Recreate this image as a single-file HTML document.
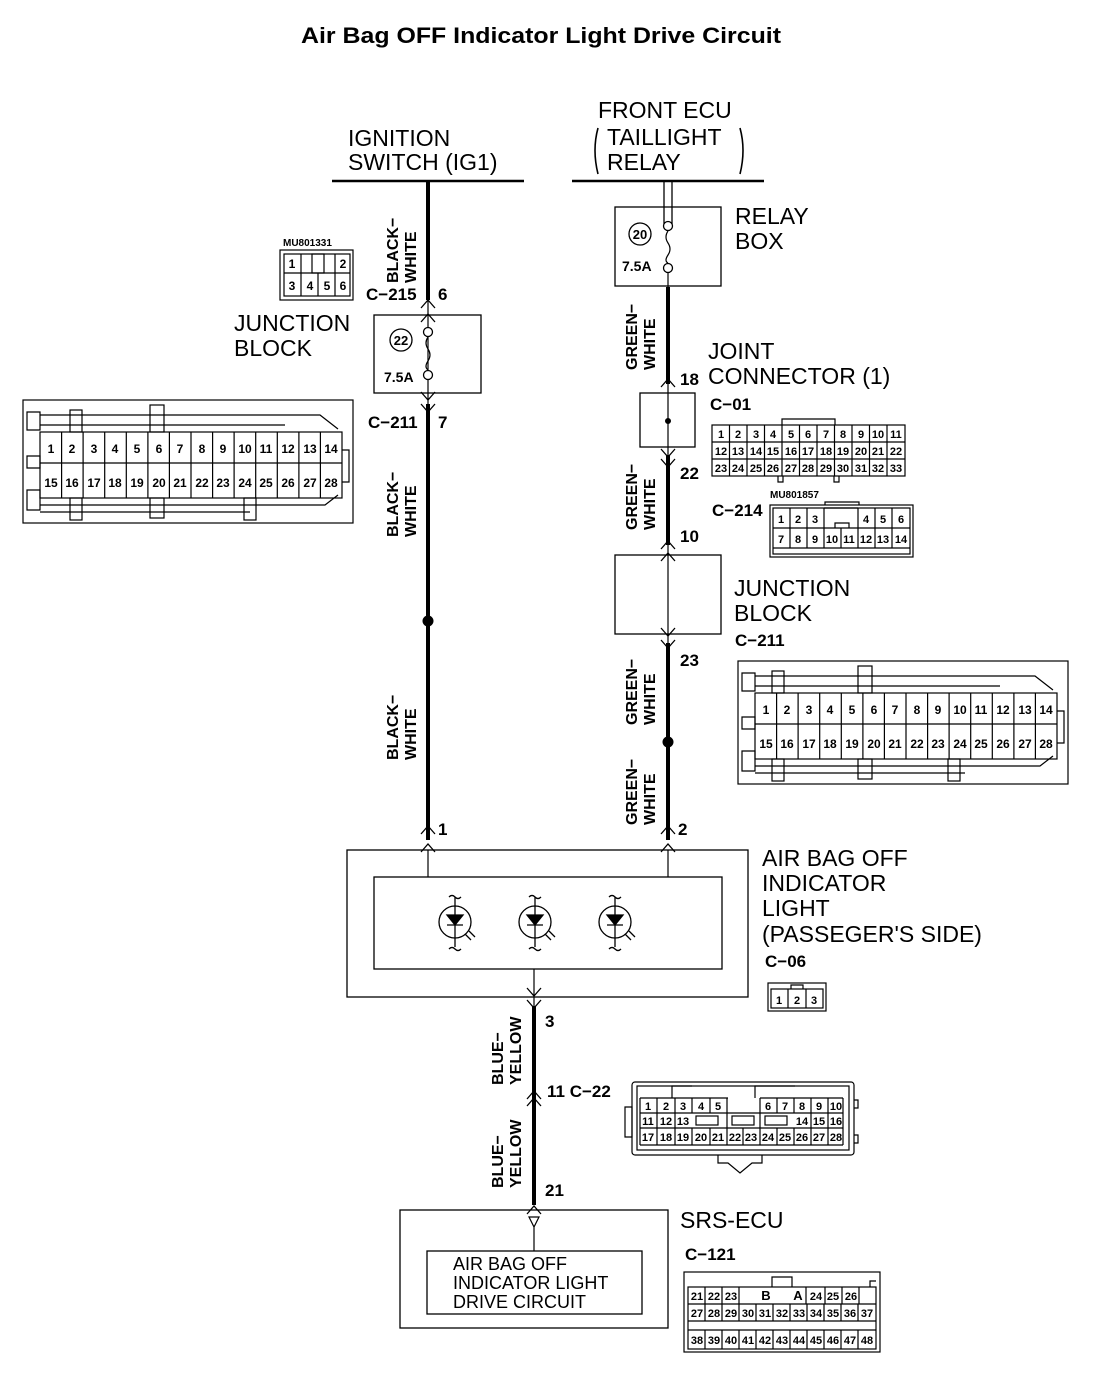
<!DOCTYPE html>
<html><head><meta charset="utf-8"><style>
html,body{margin:0;padding:0;background:#fff}
svg{display:block}
.t{font-family:"Liberation Sans",sans-serif;font-size:23px;fill:#000}
.b{font-family:"Liberation Sans",sans-serif;font-weight:bold;font-size:18px;fill:#000}
.s{font-family:"Liberation Sans",sans-serif;font-weight:bold;font-size:12px;fill:#000;text-anchor:middle}
.w{font-family:"Liberation Sans",sans-serif;font-weight:bold;font-size:17px;fill:#000}
.tiny{font-family:"Liberation Sans",sans-serif;font-weight:bold;font-size:10px;fill:#000}
</style></head><body>
<svg width="1120" height="1388" viewBox="0 0 1120 1388" xmlns="http://www.w3.org/2000/svg">
<text x="301" y="43" class="b" style="font-size:22px" textLength="480" lengthAdjust="spacingAndGlyphs">Air Bag OFF Indicator Light Drive Circuit</text>
<g stroke="#000" fill="none">
<!-- top bars -->
<line x1="332" y1="181" x2="524" y2="181" stroke-width="2.5"/>
<line x1="572" y1="181" x2="764" y2="181" stroke-width="2.5"/>
<!-- left wire -->
<line x1="428" y1="181" x2="428" y2="300" stroke-width="4"/>
<line x1="428" y1="300" x2="428" y2="404" stroke-width="1.2"/>
<line x1="428" y1="404" x2="428" y2="840" stroke-width="4"/>
<circle cx="428" cy="621" r="5" fill="#000"/>
<!-- left junction -->
<rect x="374" y="315" width="107" height="78" stroke-width="1.3"/>
<circle cx="428" cy="332" r="4.5" fill="#fff" stroke-width="1.3"/>
<circle cx="428" cy="375" r="4.5" fill="#fff" stroke-width="1.3"/>
<path d="M428 337 q-4 6 0 12 q4 6 0 12 q-4 6 0 9" stroke-width="1.2"/>
<circle cx="401" cy="340" r="11" stroke-width="1.3"/>
<path d="M421 308 l7 -8 l7 8 M421 322 l7 -8 l7 8 M421 392 l7 8 l7 -8 M421 404 l7 8 l7 -8 M421 852 l7 -8 l7 8 M421 834 l7 -8 l7 8" stroke-width="1.3"/>
<!-- right wire -->
<line x1="664" y1="181" x2="664" y2="224" stroke-width="1.3"/>
<line x1="672" y1="181" x2="672" y2="224" stroke-width="1.3"/>
<rect x="615" y="207" width="106" height="79" stroke-width="1.3"/>
<circle cx="668" cy="226" r="4.5" fill="#fff" stroke-width="1.3"/>
<circle cx="668" cy="268" r="4.5" fill="#fff" stroke-width="1.3"/>
<path d="M668 231 q-4 6 0 12 q4 6 0 12 q-4 6 0 8" stroke-width="1.2"/>
<line x1="668" y1="273" x2="668" y2="287" stroke-width="1.2"/>
<circle cx="640" cy="234" r="11" stroke-width="1.3"/>
<line x1="668" y1="287" x2="668" y2="384" stroke-width="4"/>
<line x1="668" y1="384" x2="668" y2="455" stroke-width="1.2"/>
<rect x="640" y="393" width="55" height="54" stroke-width="1.3"/>
<circle cx="668" cy="421" r="2.5" fill="#000"/>
<line x1="668" y1="455" x2="668" y2="545" stroke-width="4"/>
<line x1="668" y1="545" x2="668" y2="643" stroke-width="1.2"/>
<rect x="615" y="555" width="106" height="79" stroke-width="1.3"/>
<line x1="668" y1="643" x2="668" y2="840" stroke-width="4"/>
<circle cx="668" cy="742" r="5" fill="#000"/>
<path d="M661 387 l7 -8 l7 8 M661 449 l7 8 l7 -8 M661 459 l7 8 l7 -8 M661 549 l7 -8 l7 8 M661 561 l7 -8 l7 8 M661 628 l7 8 l7 -8 M661 640 l7 8 l7 -8 M661 852 l7 -8 l7 8 M661 834 l7 -8 l7 8" stroke-width="1.3"/>
<!-- indicator -->
<rect x="347" y="850" width="401" height="147" stroke-width="1.3"/>
<rect x="374" y="877" width="348" height="92" stroke-width="1.3"/>
<line x1="428" y1="850" x2="428" y2="877" stroke-width="1.2"/>
<line x1="668" y1="850" x2="668" y2="877" stroke-width="1.2"/>
<line x1="534" y1="969" x2="534" y2="1006" stroke-width="1.2"/>
<path d="M527 988 l7 8 l7 -8 M527 1000 l7 8 l7 -8" stroke-width="1.3"/>
<line x1="534" y1="1006" x2="534" y2="1205" stroke-width="4"/>
<path d="M527 1099 l7 -8 l7 8 M527 1106 l7 -8 l7 8 M527 1214 l7 -8 l7 8" stroke-width="1.3"/>
<g stroke-width="1.3">
<circle cx="455" cy="922" r="16"/><circle cx="535" cy="922" r="16"/><circle cx="615" cy="922" r="16"/>
</g>
<g stroke-width="1.3">
<path d="M455 897 v50 M449 897 q3 -3 6 0 q3 3 6 0 M449 949 q3 -3 6 0 q3 3 6 0 M447 925 h16" />
<path d="M447 915 h16 l-8 10 z" fill="#000"/>
<path d="M465 934 l6 6 M469 931 l6 6"/>
</g>
<g transform="translate(80,0)" stroke-width="1.3">
<path d="M455 897 v50 M449 897 q3 -3 6 0 q3 3 6 0 M449 949 q3 -3 6 0 q3 3 6 0 M447 925 h16" />
<path d="M447 915 h16 l-8 10 z" fill="#000"/>
<path d="M465 934 l6 6 M469 931 l6 6"/>
</g>
<g transform="translate(160,0)" stroke-width="1.3">
<path d="M455 897 v50 M449 897 q3 -3 6 0 q3 3 6 0 M449 949 q3 -3 6 0 q3 3 6 0 M447 925 h16" />
<path d="M447 915 h16 l-8 10 z" fill="#000"/>
<path d="M465 934 l6 6 M469 931 l6 6"/>
</g>
<!-- SRS -->
<rect x="400" y="1210" width="268" height="118" stroke-width="1.3"/>
<rect x="427" y="1251" width="215" height="63" stroke-width="1.3"/>
<path d="M529 1217 h10 l-5 10 z M534 1227 v24" stroke-width="1.2"/>
</g>
<!-- texts -->
<text x="348" y="146" class="t">IGNITION</text>
<text x="348" y="170" class="t">SWITCH (IG1)</text>
<text x="598" y="118" class="t">FRONT ECU</text>
<text x="607" y="145" class="t">TAILLIGHT</text>
<text x="607" y="170" class="t">RELAY</text>
<path d="M598 128 q-6 22 0 46 M740 128 q6 22 0 46" stroke="#000" fill="none" stroke-width="1.6"/>
<text x="735" y="224" class="t">RELAY</text>
<text x="735" y="249" class="t">BOX</text>
<text x="708" y="359" class="t">JOINT</text>
<text x="708" y="384" class="t">CONNECTOR (1)</text>
<text x="680" y="385" class="w">18</text>
<text x="734" y="596" class="t">JUNCTION</text>
<text x="734" y="621" class="t">BLOCK</text>
<text x="234" y="331" class="t">JUNCTION</text>
<text x="234" y="356" class="t">BLOCK</text>
<text x="762" y="866" class="t">AIR BAG OFF</text>
<text x="762" y="891" class="t">INDICATOR</text>
<text x="762" y="916" class="t">LIGHT</text>
<text x="762" y="942" class="t">(PASSEGER'S SIDE)</text>
<text x="680" y="1228" class="t">SRS-ECU</text>
<text x="453" y="1270" class="t" style="font-size:18px">AIR BAG OFF</text>
<text x="453" y="1289" class="t" style="font-size:18px">INDICATOR LIGHT</text>
<text x="453" y="1308" class="t" style="font-size:18px">DRIVE CIRCUIT</text>
<g class="w">
<text x="366" y="300" class="w">C−215</text><text x="438" y="300" class="w">6</text>
<text x="368" y="428" class="w">C−211</text><text x="438" y="428" class="w">7</text>
<text x="438" y="835" class="w">1</text>
<text x="678" y="835" class="w">2</text>
<text x="710" y="410" class="w">C−01</text>
<text x="680" y="479" class="w">22</text>
<text x="680" y="542" class="w">10</text>
<text x="680" y="666" class="w">23</text>
<text x="712" y="516" class="w">C−214</text>
<text x="735" y="646" class="w">C−211</text>
<text x="765" y="967" class="w">C−06</text>
<text x="545" y="1027" class="w">3</text>
<text x="547" y="1097" class="w">11 C−22</text>
<text x="545" y="1196" class="w">21</text>
<text x="685" y="1260" class="w">C−121</text>
</g>
<text x="622" y="271" class="w" style="font-size:14px">7.5A</text>
<text x="384" y="382" class="w" style="font-size:14px">7.5A</text>
<text x="640" y="239" class="s" style="font-size:13px">20</text>
<text x="401" y="345" class="s" style="font-size:13px">22</text>
<g class="w" style="font-size:16px">
<text transform="translate(398,283) rotate(-90)">BLACK−</text><text transform="translate(416,283) rotate(-90)">WHITE</text>
<text transform="translate(398,537) rotate(-90)">BLACK−</text><text transform="translate(416,537) rotate(-90)">WHITE</text>
<text transform="translate(398,760) rotate(-90)">BLACK−</text><text transform="translate(416,760) rotate(-90)">WHITE</text>
<text transform="translate(637,370) rotate(-90)">GREEN−</text><text transform="translate(655,370) rotate(-90)">WHITE</text>
<text transform="translate(637,530) rotate(-90)">GREEN−</text><text transform="translate(655,530) rotate(-90)">WHITE</text>
<text transform="translate(637,725) rotate(-90)">GREEN−</text><text transform="translate(655,725) rotate(-90)">WHITE</text>
<text transform="translate(637,825) rotate(-90)">GREEN−</text><text transform="translate(655,825) rotate(-90)">WHITE</text>
<text transform="translate(503,1085) rotate(-90)">BLUE−</text><text transform="translate(521,1085) rotate(-90)">YELLOW</text>
<text transform="translate(503,1188) rotate(-90)">BLUE−</text><text transform="translate(521,1188) rotate(-90)">YELLOW</text>
</g>

<text x="283" y="246" class="tiny">MU801331</text>
<g stroke="#000" fill="none" stroke-width="1.2">
<rect x="280" y="250" width="73" height="50"/>
<rect x="284" y="254" width="66" height="42"/>
<path d="M284 273 h66 M301 254 v42 M318 273 v23 M335 254 v42 M301 254 v19"/>
<rect x="312" y="254" width="12" height="19"/>
</g>
<g class="s"><text x="292" y="268">1</text><text x="343" y="268">2</text><text x="292" y="290">3</text><text x="310" y="290">4</text><text x="327" y="290">5</text><text x="343" y="290">6</text></g>

<g stroke="#000" fill="none" stroke-width="1.2">
<rect x="23" y="400" width="330" height="123"/>
<rect x="40" y="432" width="302" height="66"/>
<line x1="40" y1="463" x2="342" y2="463"/>
<path d="M61.6 432v66M83.1 432v66M104.7 432v66M126.3 432v66M147.9 432v66M169.4 432v66M191 432v66M212.6 432v66M234.1 432v66M255.7 432v66M277.3 432v66M298.9 432v66M320.4 432v66"/>
<path d="M27 412 h13 v18 h-13 z M27 490 h13 v20 h-13 z M27 456 h13 v12 h-13 z M40 415 h280 l18 14 M40 425 h245 M40 505 h285 l13 -10 M40 512 h210 M342 450 h7 v32 h-7"/>
<rect x="70" y="410" width="12" height="22"/><rect x="70" y="498" width="12" height="22"/><rect x="244" y="498" width="12" height="22"/>
<rect x="150" y="405" width="14" height="27"/><rect x="150" y="498" width="14" height="20"/>
</g>
<g class="s"><text x="51" y="453">1</text><text x="72" y="453">2</text><text x="94" y="453">3</text><text x="115" y="453">4</text><text x="137" y="453">5</text><text x="159" y="453">6</text><text x="180" y="453">7</text><text x="202" y="453">8</text><text x="223" y="453">9</text><text x="245" y="453">10</text><text x="266" y="453">11</text><text x="288" y="453">12</text><text x="310" y="453">13</text><text x="331" y="453">14</text>
<text x="51" y="487">15</text><text x="72" y="487">16</text><text x="94" y="487">17</text><text x="115" y="487">18</text><text x="137" y="487">19</text><text x="159" y="487">20</text><text x="180" y="487">21</text><text x="202" y="487">22</text><text x="223" y="487">23</text><text x="245" y="487">24</text><text x="266" y="487">25</text><text x="288" y="487">26</text><text x="310" y="487">27</text><text x="331" y="487">28</text></g>

<g transform="translate(715,261)">
<g stroke="#000" fill="none" stroke-width="1.2">
<rect x="23" y="400" width="330" height="123"/>
<rect x="40" y="432" width="302" height="66"/>
<line x1="40" y1="463" x2="342" y2="463"/>
<path d="M61.6 432v66M83.1 432v66M104.7 432v66M126.3 432v66M147.9 432v66M169.4 432v66M191 432v66M212.6 432v66M234.1 432v66M255.7 432v66M277.3 432v66M298.9 432v66M320.4 432v66"/>
<path d="M27 412 h13 v18 h-13 z M27 490 h13 v20 h-13 z M27 456 h13 v12 h-13 z M40 415 h280 l18 14 M40 425 h245 M40 505 h285 l13 -10 M40 512 h210 M342 450 h7 v32 h-7"/>
<rect x="57" y="410" width="12" height="22"/><rect x="57" y="498" width="12" height="22"/><rect x="233" y="498" width="12" height="22"/>
<rect x="143" y="405" width="14" height="27"/><rect x="143" y="498" width="14" height="20"/>
</g>
<g class="s"><text x="51" y="453">1</text><text x="72" y="453">2</text><text x="94" y="453">3</text><text x="115" y="453">4</text><text x="137" y="453">5</text><text x="159" y="453">6</text><text x="180" y="453">7</text><text x="202" y="453">8</text><text x="223" y="453">9</text><text x="245" y="453">10</text><text x="266" y="453">11</text><text x="288" y="453">12</text><text x="310" y="453">13</text><text x="331" y="453">14</text>
<text x="51" y="487">15</text><text x="72" y="487">16</text><text x="94" y="487">17</text><text x="115" y="487">18</text><text x="137" y="487">19</text><text x="159" y="487">20</text><text x="180" y="487">21</text><text x="202" y="487">22</text><text x="223" y="487">23</text><text x="245" y="487">24</text><text x="266" y="487">25</text><text x="288" y="487">26</text><text x="310" y="487">27</text><text x="331" y="487">28</text></g>
</g>

<g stroke="#000" fill="none" stroke-width="1.2">
<rect x="712" y="425" width="193" height="51"/>
<path d="M712 442h193M712 459h193M729.5 425v51M747 425v51M764.5 425v51M782 425v51M799.5 425v51M817 425v51M834.5 425v51M852 425v51M869.5 425v51M887 425v51"/>
<path d="M782 425 v-6 h53 v6 M778 476 v6 h5 v-6 M834 476 v6 h5 v-6"/>
</g>
<g class="s" style="font-size:11px">
<text x="721" y="438">1</text><text x="738" y="438">2</text><text x="756" y="438">3</text><text x="773" y="438">4</text><text x="791" y="438">5</text><text x="808" y="438">6</text><text x="826" y="438">7</text><text x="843" y="438">8</text><text x="861" y="438">9</text><text x="878" y="438">10</text><text x="896" y="438">11</text>
<text x="721" y="455">12</text><text x="738" y="455">13</text><text x="756" y="455">14</text><text x="773" y="455">15</text><text x="791" y="455">16</text><text x="808" y="455">17</text><text x="826" y="455">18</text><text x="843" y="455">19</text><text x="861" y="455">20</text><text x="878" y="455">21</text><text x="896" y="455">22</text>
<text x="721" y="472">23</text><text x="738" y="472">24</text><text x="756" y="472">25</text><text x="773" y="472">26</text><text x="791" y="472">27</text><text x="808" y="472">28</text><text x="826" y="472">29</text><text x="843" y="472">30</text><text x="861" y="472">31</text><text x="878" y="472">32</text><text x="896" y="472">33</text></g>

<text x="770" y="498" class="tiny">MU801857</text>
<g stroke="#000" fill="none" stroke-width="1.2">
<rect x="770" y="505" width="143" height="52"/>
<rect x="773" y="508" width="137" height="46"/>
<path d="M773 528h137 M773 548h137 M790 508v40 M807 508v40 M824 508v40 M841 528v20 M858 508v40 M875 508v40 M892 508v40"/>
<path d="M835 528 v-5 h14 v5 M824 508 h34 M825 505 v-3 h34 v3"/>
</g>
<g class="s" style="font-size:11px">
<text x="781" y="523">1</text><text x="798" y="523">2</text><text x="815" y="523">3</text><text x="866" y="523">4</text><text x="883" y="523">5</text><text x="901" y="523">6</text>
<text x="781" y="543">7</text><text x="798" y="543">8</text><text x="815" y="543">9</text><text x="832" y="543">10</text><text x="849" y="543">11</text><text x="866" y="543">12</text><text x="883" y="543">13</text><text x="901" y="543">14</text></g>

<g stroke="#000" fill="none" stroke-width="1.2">
<rect x="768" y="983" width="58" height="28"/>
<rect x="771" y="989" width="52" height="19"/>
<path d="M788 989v19 M806 989v19 M791 989 v-4 h12 v4"/>
</g>
<g class="s" style="font-size:11px"><text x="779" y="1004">1</text><text x="797" y="1004">2</text><text x="814" y="1004">3</text></g>

<g stroke="#000" fill="none" stroke-width="1.2">
<rect x="632" y="1082" width="222" height="73" rx="3"/>
<rect x="637" y="1086" width="212" height="64"/>
<path d="M640 1098h88 M760 1098h83 M640 1113h203 M640 1128h203 M640 1145h203 M640 1098v47 M843 1098v47 M657 1098v47 M675 1098v47 M692 1098v15 M710 1098v15 M727 1098v30 M760 1098v30 M777 1098v15 M794 1098v15 M811 1098v47 M828 1098v47 M692 1128v17 M710 1128v17 M727 1128v17 M743 1128v17 M760 1128v17 M777 1128v17 M794 1128v17 M727 1113 h-30 M675 1113 v15"/>
<rect x="696" y="1116" width="22" height="9"/><rect x="732" y="1116" width="22" height="9"/><rect x="765" y="1116" width="22" height="9"/>
<path d="M625 1107 h7 v30 h-7 z M854 1100 h4 v8 h-4 M854 1135 h4 v8 h-4 M718 1155 v8 h10 l12 10 l12 -10 h10 v-8"/>
<path d="M672 1098 v-12 h20 M755 1098 v-12 h40"/>
</g>
<g class="s" style="font-size:11px">
<text x="648" y="1110">1</text><text x="666" y="1110">2</text><text x="683" y="1110">3</text><text x="701" y="1110">4</text><text x="718" y="1110">5</text>
<text x="768" y="1110">6</text><text x="785" y="1110">7</text><text x="802" y="1110">8</text><text x="819" y="1110">9</text><text x="836" y="1110">10</text>
<text x="648" y="1125">11</text><text x="666" y="1125">12</text><text x="683" y="1125">13</text><text x="802" y="1125">14</text><text x="819" y="1125">15</text><text x="836" y="1125">16</text>
<text x="648" y="1141">17</text><text x="666" y="1141">18</text><text x="683" y="1141">19</text><text x="701" y="1141">20</text><text x="718" y="1141">21</text><text x="735" y="1141">22</text><text x="751" y="1141">23</text><text x="768" y="1141">24</text><text x="785" y="1141">25</text><text x="802" y="1141">26</text><text x="819" y="1141">27</text><text x="836" y="1141">28</text></g>

<g stroke="#000" fill="none" stroke-width="1.2">
<rect x="684" y="1272" width="196" height="80"/>
<rect x="688" y="1287" width="188" height="62"/>
<path d="M688 1304h188 M688 1321h188 M688 1330h188 M705 1287v17 M722 1287v17 M739 1287v17 M806 1287v17 M825 1287v17 M842 1287v17 M859 1287v17"/>
<path d="M705 1304v17 M722 1304v17 M739 1304v17 M756 1304v17 M773 1304v17 M790 1304v17 M807 1304v17 M824 1304v17 M841 1304v17 M858 1304v17"/>
<path d="M705 1330v19 M722 1330v19 M739 1330v19 M756 1330v19 M773 1330v19 M790 1330v19 M807 1330v19 M824 1330v19 M841 1330v19 M858 1330v19"/>
<path d="M772 1287 v-10 h20 v10 M870 1287 v-6 h6"/>
</g>
<g class="s" style="font-size:11px">
<text x="697" y="1300">21</text><text x="714" y="1300">22</text><text x="731" y="1300">23</text><text x="766" y="1300" style="font-size:13px">B</text><text x="798" y="1300" style="font-size:13px">A</text><text x="816" y="1300">24</text><text x="833" y="1300">25</text><text x="851" y="1300">26</text>
<text x="697" y="1317">27</text><text x="714" y="1317">28</text><text x="731" y="1317">29</text><text x="748" y="1317">30</text><text x="765" y="1317">31</text><text x="782" y="1317">32</text><text x="799" y="1317">33</text><text x="816" y="1317">34</text><text x="833" y="1317">35</text><text x="850" y="1317">36</text><text x="867" y="1317">37</text>
<text x="697" y="1344">38</text><text x="714" y="1344">39</text><text x="731" y="1344">40</text><text x="748" y="1344">41</text><text x="765" y="1344">42</text><text x="782" y="1344">43</text><text x="799" y="1344">44</text><text x="816" y="1344">45</text><text x="833" y="1344">46</text><text x="850" y="1344">47</text><text x="867" y="1344">48</text></g>
</svg>
</body></html>
